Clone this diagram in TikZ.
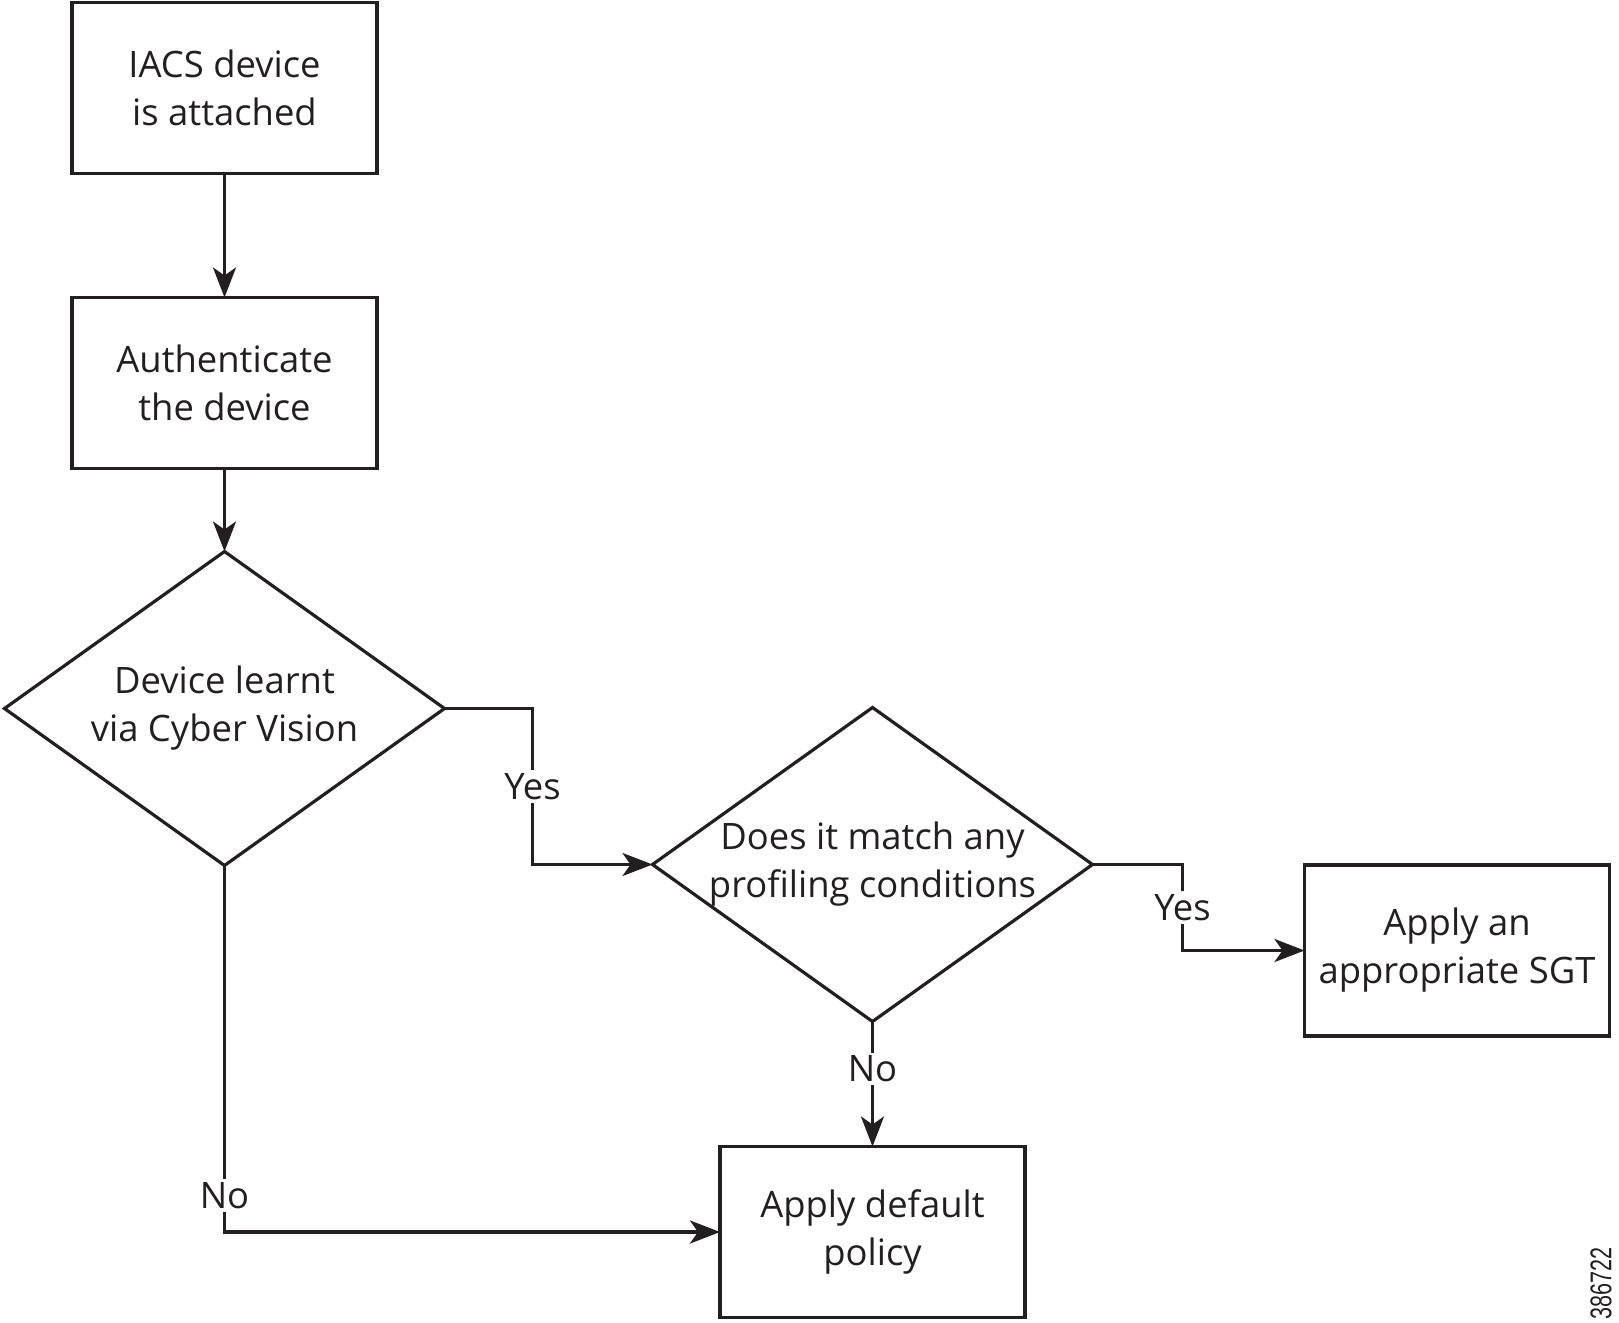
\documentclass[tikz,border=0pt]{standalone}
\usepackage{fontspec}
\setmainfont{Open Sans}
\newfontfamily\numfont{Liberation Sans}
\usetikzlibrary{arrows.meta, positioning, shapes.geometric}
\definecolor{cink}{HTML}{231f20}

\begin{document}
\begin{tikzpicture}[
  font=\fontsize{18.2}{24}\selectfont,
  color=cink,
  >={Stealth[length=15pt, width=11.5pt, inset=4pt]},
  box/.style={draw=cink, line width=1.6pt, align=center, minimum width=152.5pt,
              minimum height=85.5pt, inner sep=0pt, outer sep=0pt},
  decision/.style={draw=cink, line width=1.6pt, diamond, minimum width=220pt,
              minimum height=157pt, inner sep=0pt, outer sep=0pt},
  arr/.style={->, line width=1.6pt, draw=cink},
  lbl/.style={fill=white, inner sep=1.5pt, text=cink},
  ]
\useasboundingbox (0,0) rectangle (809.5pt,-661.5pt);

\node[box] (iacs) at (112.25pt,-44pt) {IACS device\\is attached};
\node[box, below=62pt of iacs] (auth) {Authenticate\\the device};
\node[decision, below=41.5pt of auth, label={[align=center, text=cink]center:Device learnt\\via Cyber Vision}] (learnt) {};
\node[decision, right=104pt of learnt, yshift=-78pt, label={[align=center, text=cink]center:Does it match any\\profiling conditions}] (match) {};
\node[box, right=106pt of match, yshift=-43pt] (sgt) {Apply an\\appropriate SGT};
\node[box, below=62.5pt of match] (dflt) {Apply default\\policy};

\draw[arr] (iacs) -- (auth);
\draw[arr] (auth) -- (learnt);
\draw[arr] (learnt.east) -- ++(44pt,0) |- node[lbl, pos=0.25] {Yes} (match.west);
\draw[arr] (match.east) -- ++(45pt,0) |- node[lbl, pos=0.25] {Yes} (sgt.west);
\draw[arr] (match.south) -- node[lbl, pos=0.38] {No} (dflt.north);
\draw[arr] (learnt.south) |- node[lbl, pos=0.45] {No} (dflt.west);

\node[rotate=90, font=\numfont\fontsize{15}{15}\selectfont] (fig) at (800.5pt,-641.5pt) {\scalebox{0.72}[1]{386722}};
\end{tikzpicture}
\end{document}
